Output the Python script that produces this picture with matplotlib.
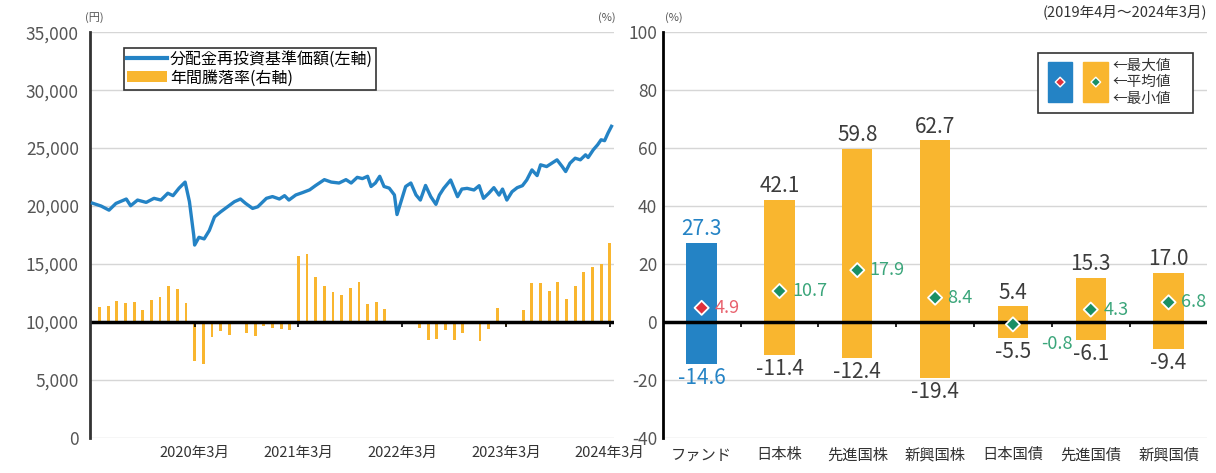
import numpy as np
import matplotlib
matplotlib.use('Agg')
import matplotlib.pyplot as plt
from matplotlib.patches import Rectangle, Patch
from matplotlib.lines import Line2D

plt.rcParams['font.family'] = ['Noto Sans CJK JP', 'DejaVu Sans']
plt.rcParams['axes.unicode_minus'] = False

# ---- 左: 分配金再投資基準価額 (x = 2019年4月末からの月数) ----
nav_t = [-0.8, 0.2, 1.1, 1.9, 3.1, 3.6, 4.4, 5.4, 6.3, 7.1, 7.9, 8.5, 9.2, 9.9,
         10.4, 10.9, 11.0, 11.5, 12.1, 12.7, 13.3, 14.0, 14.8, 15.6, 16.3, 16.9,
         17.7, 18.3, 19.3, 20.0, 20.8, 21.4, 21.9, 22.7, 23.5, 24.3, 25.0, 26.0,
         26.8, 27.7, 28.5, 29.1, 29.8, 30.4, 31.0, 31.4, 31.9, 32.4, 32.9, 33.5,
         34.1, 34.4, 34.8, 35.4, 36.0, 36.6, 37.1, 37.7, 38.3, 38.9, 39.3, 39.8,
         40.6, 41.4, 41.9, 42.5, 43.3, 43.9, 44.4, 45.0, 45.6, 46.2, 46.6, 47.1,
         47.7, 48.3, 48.9, 49.4, 50.0, 50.6, 51.0, 51.7, 52.3, 52.9, 53.5, 53.9,
         54.4, 55.0, 55.6, 56.2, 56.5, 57.1, 57.6, 58.0, 58.4, 58.8, 59.2]
nav_yen = [20250, 20000, 19650, 20230, 20610, 20030, 20520, 20320, 20670, 20520,
           21110, 20900, 21550, 22070, 20380, 17460, 16640, 17310, 17170, 17900,
           19070, 19500, 19940, 20380, 20610, 20230, 19800, 19940, 20670, 20820,
           20610, 20900, 20520, 20960, 21170, 21400, 21780, 22280, 22070, 21990,
           22280, 21990, 22480, 22370, 22570, 21690, 21990, 22570, 21690, 21550,
           20960, 19270, 20230, 21690, 21990, 20960, 20520, 21780, 20820, 20150,
           20950, 21530, 22250, 20810, 21470, 21530, 21390, 21760, 20670, 21100,
           21590, 20950, 21470, 20520, 21240, 21590, 21760, 22250, 23120, 22630,
           23560, 23410, 23700, 23990, 23410, 22980, 23700, 24130, 23990, 24420,
           24190, 24860, 25290, 25720, 25640, 26300, 26880]

# 年間騰落率 (%), 2019年4月〜2024年3月 の各月末
ret_pct = [5.3, 5.5, 7.3, 6.7, 6.9, 4.2, 7.5, 8.7, 12.3, 11.3, 6.7, -13.3,
           -14.6, -5.2, -3.2, -4.3, -0.3, -3.7, -4.9, -1.4, -2.0, -2.5, -2.6, 22.7,
           23.4, 15.4, 12.5, 10.2, 9.5, 11.6, 13.9, 6.1, 6.9, 4.6, 0.3, -0.4,
           -0.2, -2.0, -6.2, -6.0, -2.8, -6.2, -3.7, -0.4, -6.7, -2.3, 4.7, -1.2,
           0.2, 4.3, 13.6, 13.4, 10.8, 13.9, 8.1, 12.5, 17.3, 19.1, 20.0, 27.3]
start_year, start_month = 2019, 4

# ---- 右: 年間騰落率の比較 ----
asset_names = ['ファンド', '日本株', '先進国株', '新興国株', '日本国債', '先進国債', '新興国債']
max_pct = [27.3, 42.1, 59.8, 62.7, 5.4, 15.3, 17.0]
min_pct = [-14.6, -11.4, -12.4, -19.4, -5.5, -6.1, -9.4]
avg_pct = [4.9, 10.7, 17.9, 8.4, -0.8, 4.3, 6.8]

BLUE = '#2483c5'
ORANGE = '#f9b62f'
GRID = '#d6d6d6'
TICK = '#555555'
VAL = '#3c3c3c'
RED = '#e0303c'
PINK = '#e8606c'
GREEN = '#1a8f64'
LGREEN = '#3aa57a'

fig = plt.figure(figsize=(12.16, 4.73), dpi=100)

# ---------- left chart ----------
axL = fig.add_axes([0.074, 0.074, 0.431, 0.858])
axL2 = axL.twinx()
axL.set_zorder(axL2.get_zorder() + 1)
axL.patch.set_visible(False)

months = np.arange(len(ret_pct))
axL2.bar(months, ret_pct, width=0.33, color=ORANGE, zorder=2)
axL2.axhline(0, color='black', lw=2.5, zorder=3)
axL2.set_ylim(-40, 100)
axL2.set_yticks(range(-40, 101, 20))
axL2.yaxis.grid(True, color=GRID, lw=1, zorder=0)
axL2.tick_params(axis='y', length=0, labelright=False)
for s in axL2.spines.values():
    s.set_visible(False)

mon_of = [(start_month - 1 + k) % 12 + 1 for k in months]
year_of = [start_year + (start_month - 1 + k) // 12 for k in months]
tick_idx = [k for k in months if mon_of[k] == 3]
axL2.vlines(tick_idx, -1.6, 0, color='black', lw=1.2, zorder=3)

axL.plot(nav_t, nav_yen, color=BLUE, lw=2.4, zorder=4)
axL.set_ylim(0, 35000)
axL.set_yticks(range(0, 35001, 5000))
axL.set_yticklabels([f'{v:,}' for v in range(0, 35001, 5000)])
axL.set_xlim(-1.1, 59.5)
axL.set_xticks(tick_idx)
axL.set_xticklabels([f'{year_of[k]}年{mon_of[k]}月' for k in tick_idx])
axL.tick_params(axis='y', length=0, pad=8, labelsize=12.5, labelcolor=TICK)
axL.tick_params(axis='x', length=0, pad=6, labelsize=10.5, labelcolor='#333333')
for s in ['top', 'right', 'bottom']:
    axL.spines[s].set_visible(False)
axL.spines['left'].set_color('#333333')
axL.spines['left'].set_linewidth(2)

handles = [Line2D([], [], color=BLUE, lw=3),
           Patch(facecolor=ORANGE, edgecolor='none')]
leg = axL.legend(handles, ['分配金再投資基準価額(左軸)', '年間騰落率(右軸)'],
                 loc='upper left', bbox_to_anchor=(0.064, 0.962), fontsize=11.5,
                 frameon=True, fancybox=False, edgecolor='#333333', framealpha=1,
                 borderpad=0.2, labelspacing=0.1, handlelength=2.5,
                 handletextpad=0.2, borderaxespad=0)
leg.get_frame().set_linewidth(1.2)

fig.text(0.070, 0.955, '(円)', fontsize=8, color=TICK)
fig.text(0.492, 0.955, '(%)', fontsize=8, color=TICK)

# ---------- right chart ----------
axR = fig.add_axes([0.545, 0.074, 0.448, 0.858])
x = np.arange(len(asset_names))
bar_cols = [BLUE] + [ORANGE] * (len(x) - 1)
axR.bar(x, np.array(max_pct) - np.array(min_pct), bottom=min_pct, width=0.39,
        color=bar_cols, zorder=2)
axR.axhline(0, color='black', lw=2.5, zorder=3)
axR.vlines(x[:-1] + 0.5, -1.6, 0, color='black', lw=1.2, zorder=3)
axR.scatter(x, avg_pct, marker='D', s=52, c=[RED] + [GREEN] * (len(x) - 1),
            edgecolors='white', linewidths=1.3, zorder=5)

for i in x:
    top_col = BLUE if i == 0 else VAL
    axR.annotate(f'{max_pct[i]:.1f}', (i, max_pct[i]), xytext=(0, 2),
                 textcoords='offset points', ha='center', va='bottom',
                 fontsize=15, color=top_col)
    axR.annotate(f'{min_pct[i]:.1f}', (i, min_pct[i]), xytext=(0, -2),
                 textcoords='offset points', ha='center', va='top',
                 fontsize=15, color=top_col)
    near_zero = abs(avg_pct[i]) < 2
    off = (20, -14) if near_zero else (9, 0)
    axR.annotate(f'{avg_pct[i]:.1f}', (i, avg_pct[i]), xytext=off,
                 textcoords='offset points', ha='left', va='center',
                 fontsize=13, color=PINK if i == 0 else LGREEN)

axR.set_xlim(-0.5, len(x) - 0.5)
axR.set_ylim(-40, 100)
axR.set_yticks(range(-40, 101, 20))
axR.yaxis.grid(True, color=GRID, lw=1, zorder=0)
axR.set_axisbelow(True)
axR.set_xticks(x)
axR.set_xticklabels(asset_names)
axR.tick_params(axis='y', length=0, pad=4, labelsize=12.5, labelcolor=TICK)
axR.tick_params(axis='x', length=0, pad=6, labelsize=11, labelcolor='#333333')
for s in ['top', 'right', 'bottom']:
    axR.spines[s].set_visible(False)
axR.spines['left'].set_color('black')
axR.spines['left'].set_linewidth(2)

fig.text(0.547, 0.955, '(%)', fontsize=8, color=TICK)
axR.text(1.0, 1.05, '(2019年4月～2024年3月)', transform=axR.transAxes,
         ha='right', va='center', fontsize=10.5, color='#333333')

# 凡例 (右)
tr = axR.transAxes
axR.add_patch(Rectangle((0.689, 0.800), 0.285, 0.148, transform=tr, fill=True,
                        facecolor='white', edgecolor='#333333', lw=1.2,
                        zorder=6, clip_on=False))
axR.add_patch(Rectangle((0.707, 0.828), 0.045, 0.098, transform=tr,
                        color=BLUE, zorder=7, clip_on=False))
axR.add_patch(Rectangle((0.772, 0.828), 0.046, 0.098, transform=tr,
                        color=ORANGE, zorder=7, clip_on=False))
axR.scatter([0.7295, 0.795], [0.877, 0.877], marker='D', s=24,
            c=[RED, GREEN], edgecolors='white', linewidths=1,
            transform=tr, zorder=8, clip_on=False)
for yy, lab in zip([0.918, 0.877, 0.836], ['最大値', '平均値', '最小値']):
    axR.text(0.826, yy, '←' + lab, transform=tr, ha='left', va='center',
             fontsize=10.5, color='#333333', zorder=8)

fig.savefig('out.png', dpi=100)
